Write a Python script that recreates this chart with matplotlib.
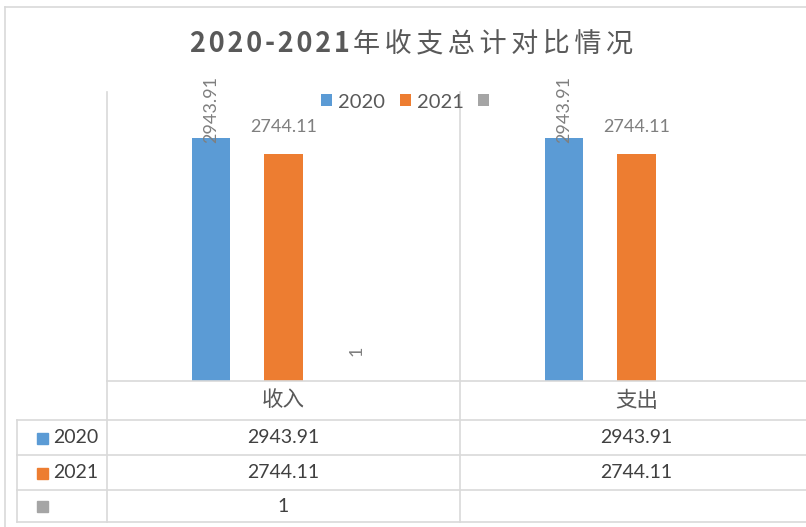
import matplotlib
matplotlib.use("Agg")
import matplotlib.pyplot as plt
from matplotlib.lines import Line2D
from matplotlib.patches import Patch
import numpy as np

plt.rcParams['font.family'] = ['Lato', 'Noto Sans CJK SC', 'DejaVu Sans']

# data
title_num = '2020-2021'
title_txt = '年收支总计对比情况'
categories = ['收入', '支出']
series_names = ['2020', '2021', '']
values_2020 = [2943.91, 2943.91]
values_2021 = [2744.11, 2744.11]
values_blank = [1, np.nan]
series_values = [values_2020, values_2021, values_blank]

colors = ['#5B9BD5', '#ED7D31', '#A5A5A5']
grid_c = '#D9D9D9'

W, H = 806, 527
fig = plt.figure(figsize=(W / 100, H / 100), dpi=100)


def fx(px):
    return px / W


def fy(py):
    return 1 - py / H


# plot area (extends past the right edge like the original)
plot_l, plot_r, plot_t, plot_b = 107, 813, 92, 381
ax = fig.add_axes([fx(plot_l), fy(plot_b), fx(plot_r - plot_l), (plot_b - plot_t) / H])
ax.set_xlim(-0.5, len(categories) - 0.5)
ax.set_ylim(0, 3500)
ax.axis('off')

x = np.arange(len(categories))
offsets = [-0.206, 0.0, 0.206]
bar_w = 0.108
# label placement per series: (rotation, vertical offset in px, va)
label_style = [(90, -5, 'bottom'), (0, 27, 'center'), (90, 30, 'center')]
for vals, off, col, (rot, dy, va) in zip(series_values, offsets, colors, label_style):
    ax.bar(x + off, vals, width=bar_w, color=col)
    for xi, v in zip(x, vals):
        if np.isnan(v):
            continue
        ax.annotate(f'{v:g}', (xi + off, v), xytext=(0, dy), textcoords='offset pixels',
                    ha='center', va=va, rotation=rot, fontsize=13, color='#7F7F7F')

# legend
handles = [Patch(facecolor=c, edgecolor='none') for c in colors]
fig.legend(handles, series_names, loc='center', bbox_to_anchor=(fx(408), fy(102)),
           ncol=3, frameon=False, fontsize=14.5, handlelength=0.55, handleheight=0.55,
           handletextpad=0.3, columnspacing=0.7, labelcolor='#595959')

# title: bold digits + lighter CJK, both letter-spaced
cjk = ['Noto Sans CJK SC', 'DejaVu Sans']
t1 = fig.text(0, fy(44), '\u200a'.join(title_num), ha='left', va='center', fontsize=19.5,
              fontweight='bold', color='#595959', family=cjk)
t2 = fig.text(0, fy(44), '\u2006'.join(title_txt), ha='left', va='center', fontsize=19.5,
              color='#595959', family=cjk)
r = fig.canvas.get_renderer()
w1 = t1.get_window_extent(r).width
w2 = t2.get_window_extent(r).width
gap = 3
start = 412 - (w1 + gap + w2) / 2
t1.set_x(fx(start))
t2.set_x(fx(start + w1 + gap))


def hline(y, x0, x1):
    fig.add_artist(Line2D([fx(x0), fx(x1)], [fy(y), fy(y)], color=grid_c, lw=1.2))


def vline(xp, y0, y1):
    fig.add_artist(Line2D([fx(xp), fx(xp)], [fy(y0), fy(y1)], color=grid_c, lw=1.2))


# chart border
hline(7, 5, W)
vline(5, 7, H)

# data table grid
row_lines = [381, 420, 455, 490, 522]
tab_l = 17
hline(row_lines[0], plot_l, W)
for y in row_lines[1:]:
    hline(y, tab_l, W)
vline(tab_l, row_lines[1], row_lines[-1])
vline(plot_l, plot_t, row_lines[-1])
vline(460, plot_t, row_lines[-1])

# table text, columns follow the category positions of the axes
col_x = [ax.transData.transform((xi, 0))[0] / W for xi in x]
header_y = (row_lines[0] + row_lines[1]) / 2
for cx, cat in zip(col_x, categories):
    fig.text(cx, fy(header_y), cat, ha='center', va='center', fontsize=15.5,
             fontweight='light', color='#595959')

for i, (name, vals, col) in enumerate(zip(series_names, series_values, colors)):
    yc = (row_lines[i + 1] + row_lines[i + 2]) / 2
    fig.add_artist(plt.Rectangle((fx(37), fy(yc + 6)), fx(11), 11 / H, color=col,
                                 transform=fig.transFigure))
    fig.text(fx(53), fy(yc), name, ha='left', va='center', fontsize=14, color='#404040')
    for cx, v in zip(col_x, vals):
        if np.isnan(v):
            continue
        fig.text(cx, fy(yc), f'{v:g}', ha='center', va='center', fontsize=14, color='#404040')

fig.savefig('out.png', dpi=100, facecolor='white')
